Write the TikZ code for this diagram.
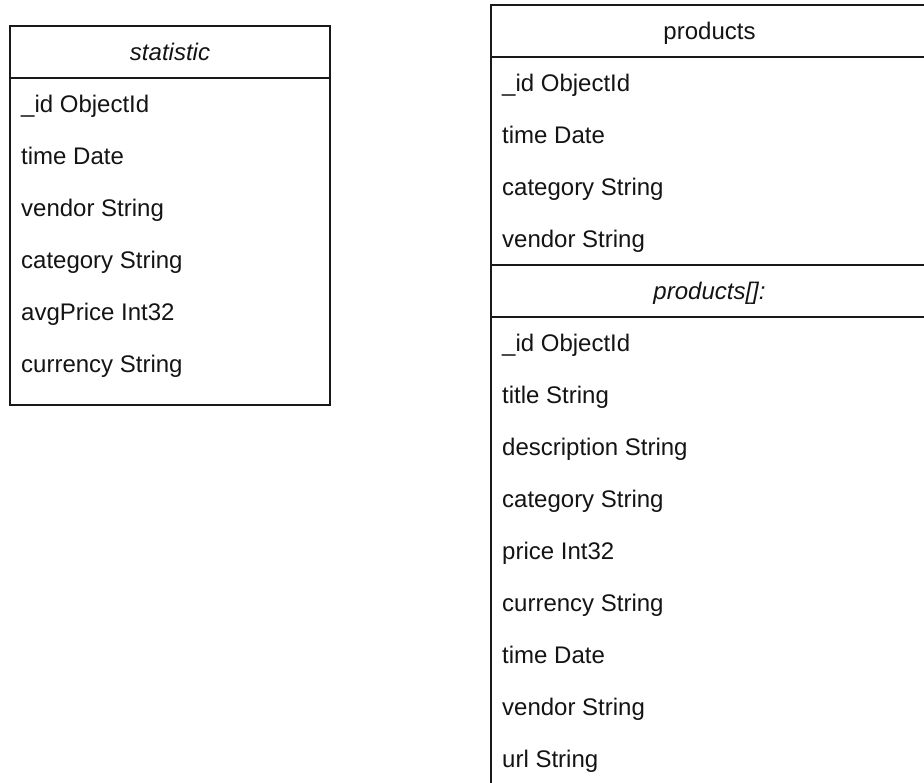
\documentclass[tikz,border=0pt]{standalone}
\usepackage{fontspec}
\setmainfont{Liberation Sans}
\begin{document}
\begin{tikzpicture}[x=1pt,y=-1pt,
  frame/.style={draw=black!90,line width=2.8pt},
  field/.style={anchor=west,inner sep=0pt,text height=17.2pt,text depth=0pt,
    font=\fontsize{24pt}{28pt}\selectfont,text=black!92},
  title/.style={field,anchor=center}]
\useasboundingbox (0,0) rectangle (924,783);
\clip (0,0) rectangle (924,783);
\fill[white] (0,0) rectangle (924,783);

% statistic collection
\draw[frame] (10,26) rectangle (330,405);
\draw[frame] (10,78) -- (330,78);
\node[title] (stat) at (170,52) {\itshape statistic};
\foreach \t [count=\i] in {\_id ObjectId, time Date, vendor String,
    category String, avgPrice Int32, currency String}
  \node[field] (stat-\i) at (21,{78+52*\i-26}) {\t};

% products collection with embedded products[] array
\draw[frame] (491,5) rectangle (928,800);
\draw[frame] (491,57) -- (928,57);
\draw[frame] (491,265) -- (928,265);
\draw[frame] (491,317) -- (928,317);
\node[title] (prod) at (709.5,31) {products};
\foreach \t [count=\i] in {\_id ObjectId, time Date, category String, vendor String}
  \node[field] (prod-\i) at (502,{57+52*\i-26}) {\t};
\node[title] (arr) at (709.5,291) {\itshape products[]:};
\foreach \t [count=\i] in {\_id ObjectId, title String, description String,
    category String, price Int32, currency String, time Date,
    vendor String, url String}
  \node[field] (arr-\i) at (502,{317+52*\i-26}) {\t};
\end{tikzpicture}
\end{document}
